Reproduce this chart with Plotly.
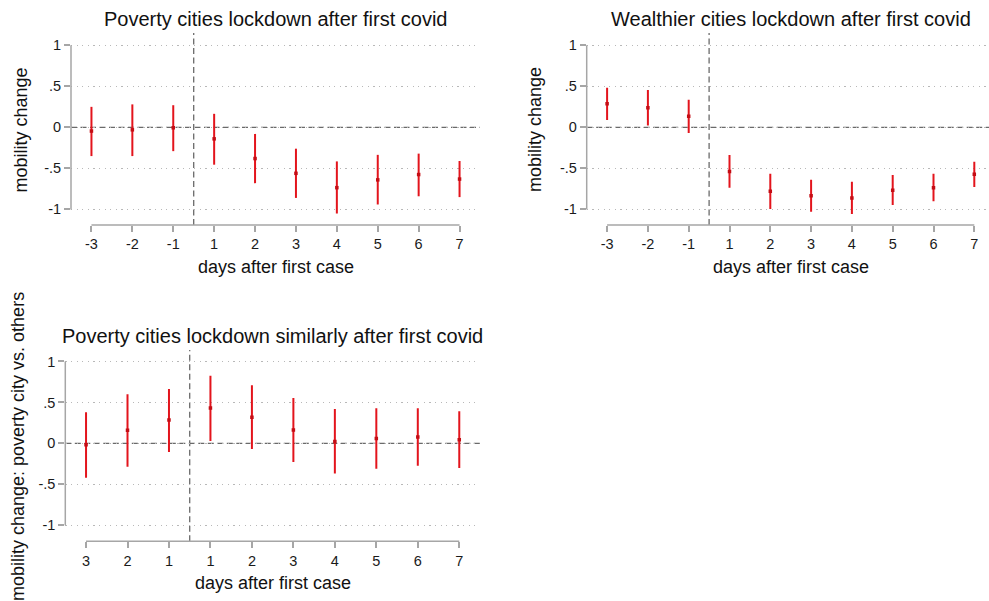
import plotly.graph_objects as go

# ---- data ----
positions = list(range(10))
tick_labels_top = ["-3", "-2", "-1", "1", "2", "3", "4", "5", "6", "7"]
tick_labels_bottom = ["3", "2", "1", "1", "2", "3", "4", "5", "6", "7"]
y_tickvals = [-1, -0.5, 0, 0.5, 1]
y_ticktext = ["-1", "-.5", "0", ".5", "1"]

poverty_est = [-0.045, -0.03, -0.005, -0.14, -0.38, -0.56, -0.735, -0.64, -0.575, -0.63]
poverty_hi = [0.25, 0.28, 0.27, 0.165, -0.08, -0.26, -0.415, -0.335, -0.32, -0.41]
poverty_lo = [-0.35, -0.35, -0.29, -0.455, -0.68, -0.86, -1.05, -0.94, -0.84, -0.85]

wealth_est = [0.289, 0.24, 0.134, -0.537, -0.78, -0.833, -0.862, -0.768, -0.736, -0.573]
wealth_hi = [0.484, 0.455, 0.337, -0.337, -0.565, -0.638, -0.663, -0.581, -0.565, -0.419]
wealth_lo = [0.089, 0.024, -0.069, -0.736, -0.996, -1.03, -1.057, -0.947, -0.902, -0.728]

diff_est = [-0.016, 0.159, 0.285, 0.432, 0.318, 0.163, 0.024, 0.061, 0.077, 0.045]
diff_hi = [0.379, 0.599, 0.664, 0.827, 0.709, 0.554, 0.42, 0.428, 0.428, 0.391]
diff_lo = [-0.42, -0.285, -0.106, 0.029, -0.069, -0.228, -0.367, -0.31, -0.273, -0.301]

titles = ["Poverty cities lockdown after first covid",
          "Wealthier cities lockdown after first covid",
          "Poverty cities lockdown similarly after first covid"]
x_title = "days after first case"
y_titles = ["mobility change", "mobility change", "mobility change: poverty city vs. others"]
event_pos = 2.5

# ---- layout geometry ----
W, H = 989, 601
FONT = "Liberation Sans, Arial, Helvetica, sans-serif"
RED = "#e3141c"
AXIS_GREY = "#a6a6a6"
REF_GREY = "#6a6a6a"
panels = [
    dict(sfx="", l=71, r=480, t=33, b=225, xr=[-0.5, 9.5], yr=[-1.19, 1.15],
         est=poverty_est, hi=poverty_hi, lo=poverty_lo, ticks=tick_labels_top),
    dict(sfx="2", l=586.7, r=989, t=33, b=225, xr=[-0.5, -0.5 + (989 - 586.7) / 40.8], yr=[-1.19, 1.15],
         est=wealth_est, hi=wealth_hi, lo=wealth_lo, ticks=tick_labels_top, full_r=994.7),
    dict(sfx="3", l=65.3, r=480, t=350, b=541.3, xr=[-0.5, 9.5], yr=[-1.195, 1.14],
         est=diff_est, hi=diff_hi, lo=diff_lo, ticks=tick_labels_bottom),
]

fig = go.Figure()
annotations = []
shapes = []
layout = {}
for i, p in enumerate(panels):
    xa = "x" + p["sfx"]
    ya = "y" + p["sfx"]
    err_plus = [h - e for h, e in zip(p["hi"], p["est"])]
    err_minus = [e - l for e, l in zip(p["est"], p["lo"])]
    fig.add_trace(go.Scatter(
        x=positions, y=p["est"], mode="markers", xaxis=xa, yaxis=ya,
        marker=dict(symbol="square", size=3.5, color="#c40d14", line=dict(width=0)),
        error_y=dict(type="data", symmetric=False, array=err_plus, arrayminus=err_minus,
                     color=RED, thickness=2, width=0),
        showlegend=False, hoverinfo="skip"))
    xkey = "xaxis" + p["sfx"]
    ykey = "yaxis" + p["sfx"]
    layout[xkey] = dict(domain=[p["l"] / W, p["r"] / W], range=p["xr"], anchor=ya,
                        tickvals=positions, ticktext=p["ticks"], ticks="outside",
                        ticklen=6, tickwidth=1.5, tickcolor=AXIS_GREY,
                        showgrid=False, zeroline=False, showline=False,
                        tickfont=dict(family=FONT, size=14.5, color="#1a1a1a"))
    layout[ykey] = dict(domain=[1 - p["b"] / H, 1 - p["t"] / H], range=p["yr"], anchor=xa,
                        tickvals=y_tickvals, ticktext=y_ticktext, ticks="outside",
                        ticklen=6, tickwidth=1.5, tickcolor=AXIS_GREY,
                        showgrid=True, gridcolor="#b8b8b8", griddash="1.2px,4.4px", gridwidth=1.3,
                        zeroline=False, showline=False,
                        tickfont=dict(family=FONT, size=14.5, color="#1a1a1a"))
    # axis lines limited to the data span
    shapes.append(dict(type="line", xref=xa + " domain", yref=ya, x0=0, x1=0, y0=-1, y1=1,
                       line=dict(color=AXIS_GREY, width=1.5)))
    shapes.append(dict(type="line", xref=xa, yref=ya + " domain", x0=0, x1=9, y0=0, y1=0,
                       line=dict(color=AXIS_GREY, width=1.5)))
    # zero reference line
    shapes.append(dict(type="line", xref=xa + " domain", yref=ya, x0=0, x1=1, y0=0, y1=0,
                       line=dict(color=REF_GREY, width=1.3, dash="6px,3.5px"), layer="below"))
    # event line
    shapes.append(dict(type="line", xref=xa, yref=ya + " domain", x0=event_pos, x1=event_pos, y0=0, y1=1,
                       line=dict(color=REF_GREY, width=1.3, dash="6px,3.5px"), layer="below"))
    # titles
    full_r = p.get("full_r", p["r"])
    cx = (p["l"] + full_r) / 2
    annotations.append(dict(text=titles[i], x=cx / W, y=1 - (p["t"] - 14) / H, xref="paper", yref="paper",
                            xanchor="center", yanchor="middle", showarrow=False,
                            font=dict(family=FONT, size=20, color="#111111")))
    annotations.append(dict(text=x_title, x=cx / W, y=1 - (p["b"] + 42) / H, xref="paper", yref="paper",
                            xanchor="center", yanchor="middle", showarrow=False,
                            font=dict(family=FONT, size=18, color="#111111")))

annotations.append(dict(text=y_titles[0], x=20.5 / W, y=1 - 130 / H, xref="paper", yref="paper",
                        xanchor="center", yanchor="middle", textangle=-90, showarrow=False,
                        font=dict(family=FONT, size=18, color="#111111")))
annotations.append(dict(text=y_titles[1], x=535 / W, y=1 - 130 / H, xref="paper", yref="paper",
                        xanchor="center", yanchor="middle", textangle=-90, showarrow=False,
                        font=dict(family=FONT, size=18, color="#111111")))
annotations.append(dict(text=y_titles[2], x=18 / W, y=1 - 447 / H, xref="paper", yref="paper",
                        xanchor="center", yanchor="middle", textangle=-90, showarrow=False,
                        font=dict(family=FONT, size=18, color="#111111")))

fig.update_layout(width=W, height=H, margin=dict(l=0, r=0, t=0, b=0),
                  paper_bgcolor="white", plot_bgcolor="white",
                  annotations=annotations, shapes=shapes, **layout)
fig.write_html("out.html")
